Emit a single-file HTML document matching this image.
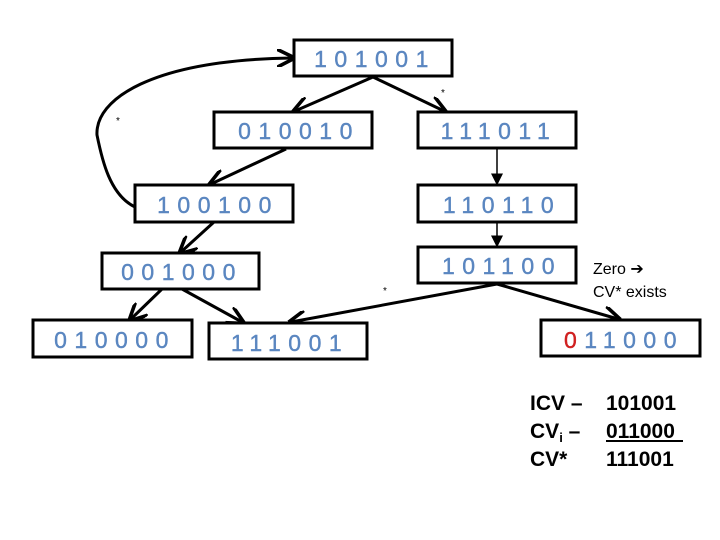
<!DOCTYPE html>
<html><head><style>
html,body{margin:0;padding:0;background:#fff;width:720px;height:540px;overflow:hidden}
svg{display:block}
.b{fill:#fff;stroke:#000;stroke-width:3}
.t{font-family:"Liberation Sans",sans-serif;font-size:23px;fill:#5a86c0;letter-spacing:7.5px;text-anchor:middle;stroke:#5a86c0;stroke-width:0.4}
.a{stroke:#000;stroke-width:3;fill:none;marker-end:url(#ah)}
.a2{stroke:#000;stroke-width:1.5;fill:none;marker-end:url(#ah2)}
.s{font-family:"Liberation Sans",sans-serif;font-size:10px}
.l{font-family:"Liberation Sans",sans-serif;font-size:21px;font-weight:bold;fill:#000}
</style></head><body>
<svg width="720" height="540" viewBox="0 0 720 540">
<defs>
<marker id="ah" markerWidth="6" markerHeight="6" refX="5" refY="3" orient="auto" markerUnits="strokeWidth"><path d="M0,0 L6,3 L0,6" fill="none" stroke="#000" stroke-width="1.2"/></marker>
<marker id="ah2" markerWidth="8" markerHeight="8" refX="7" refY="4" orient="auto" markerUnits="strokeWidth"><path d="M0,0 L8,4 L0,8 z" fill="#000"/></marker>
</defs>
<path class="a" d="M135,207 C110,195 102,160 97,135 C95,100 150,60 292,58"/>
<line class="a" x1="373" y1="77" x2="295" y2="111"/>
<line class="a" x1="373" y1="77" x2="444" y2="111"/>
<line class="a" x1="286" y1="149" x2="211" y2="184"/>
<line class="a2" x1="497" y1="149" x2="497" y2="184"/>
<line class="a2" x1="497" y1="222" x2="497" y2="246"/>
<line class="a" x1="214" y1="222" x2="181" y2="252"/>
<line class="a" x1="162" y1="289" x2="131" y2="319"/>
<line class="a" x1="182" y1="289" x2="242" y2="322"/>
<line class="a" x1="497" y1="284" x2="291" y2="322"/>
<line class="a" x1="497" y1="284" x2="618" y2="319"/>
<rect class="b" x="294" y="40" width="158" height="36"/>
<rect class="b" x="214" y="112" width="158" height="36"/>
<rect class="b" x="418" y="112" width="158" height="36"/>
<rect class="b" x="135" y="185" width="158" height="37"/>
<rect class="b" x="418" y="185" width="158" height="37"/>
<rect class="b" x="102" y="253" width="157" height="36"/>
<rect class="b" x="418" y="247" width="158" height="36"/>
<rect class="b" x="33" y="320" width="159" height="37"/>
<rect class="b" x="209" y="323" width="158" height="36"/>
<rect class="b" x="541" y="320" width="159" height="36"/>
<text class="t" x="375" y="67">101001</text>
<text class="t" x="299" y="139">010010</text>
<text class="t" x="499" y="139">111011</text>
<text class="t" x="218" y="213">100100</text>
<text class="t" x="502" y="213">110110</text>
<text class="t" x="182" y="280">001000</text>
<text class="t" x="502" y="274">101100</text>
<text class="t" x="115" y="348">010000</text>
<text class="t" x="290" y="351">111001</text>
<text class="t" x="624" y="348"><tspan fill="#d02020" stroke="#d02020">0</tspan>11000</text>
<text class="s" x="441" y="96">*</text>
<text class="s" x="116" y="124">*</text>
<text class="s" x="383" y="294">*</text>
<text x="593" y="274" style="font-family:'Liberation Sans',sans-serif;font-size:16px">Zero ➔</text>
<text x="593" y="297" style="font-family:'Liberation Sans',sans-serif;font-size:16px">CV* exists</text>
<text class="l" x="530" y="410">ICV –</text><text class="l" x="606" y="410">101001</text>
<text class="l" x="530" y="438">CV<tspan font-size="13" dy="4">i</tspan><tspan dy="-4"> –</tspan></text><text class="l" x="606" y="438">011000</text>
<line x1="606" y1="441" x2="683" y2="441" stroke="#000" stroke-width="2"/>
<text class="l" x="530" y="466">CV*</text><text class="l" x="606" y="466">111001</text>
</svg>
</body></html>
